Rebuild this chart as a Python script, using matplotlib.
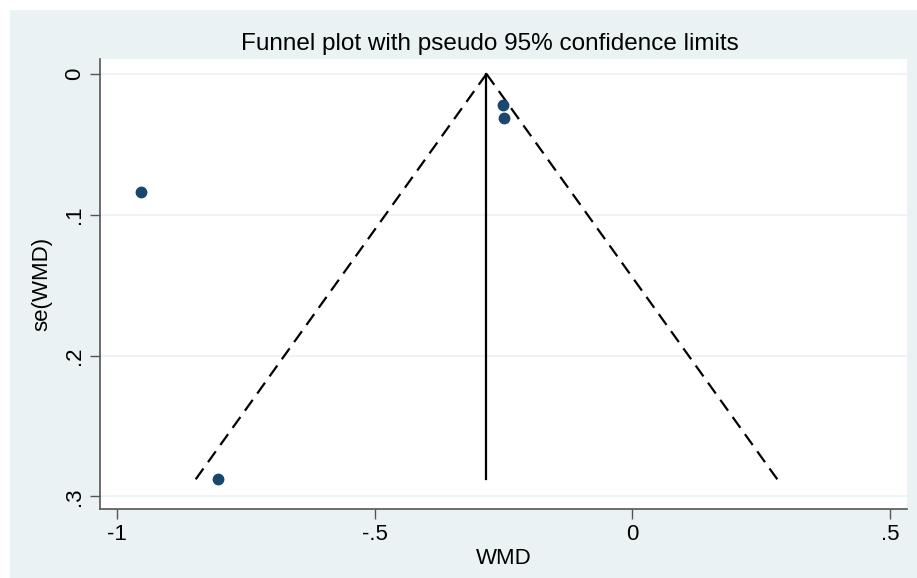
import matplotlib
matplotlib.use("Agg")
import matplotlib.pyplot as plt
from matplotlib.patches import Rectangle
import numpy as np

plt.rcParams['font.family'] = ['Liberation Sans', 'DejaVu Sans']

# Data
wmd = [-0.953, -0.804, -0.250, -0.249]
se_wmd = [0.084, 0.288, 0.022, 0.031]
pooled_wmd = -0.283
max_se = 0.288
z95 = 1.96

xticks = [-1, -0.5, 0, 0.5]
xticklabels = ["-1", "-.5", "0", ".5"]
yticks = [0, 0.1, 0.2, 0.3]
yticklabels = ["0", ".1", ".2", ".3"]

W, H = 917, 578
fig = plt.figure(figsize=(W / 100, H / 100), dpi=100)
fig.patch.set_facecolor("white")
bg = "#eaf2f3"
fig.patches.append(Rectangle((10 / W, 0), 1 - 10 / W, 1 - 10 / H,
                             transform=fig.transFigure, facecolor=bg,
                             edgecolor="none", zorder=-10))

left, right, top, bottom = 100, 907, 59, 509
ax = fig.add_axes([left / W, 1 - bottom / H, (right - left) / W, (bottom - top) / H])
ax.set_facecolor("white")

ax.set_xlim(-1.033, 0.533)
ax.set_ylim(0.309, -0.0106)

for y in yticks:
    ax.axhline(y, color=bg, lw=1.2, zorder=0)

# funnel
se_line = np.array([0, max_se])
ax.plot(pooled_wmd - z95 * se_line, se_line, color="black", ls=(0, (6, 3.5)), lw=1.6)
ax.plot(pooled_wmd + z95 * se_line, se_line, color="black", ls=(0, (6, 3.5)), lw=1.6)
ax.plot([pooled_wmd, pooled_wmd], [0, max_se], color="black", lw=1.6)

ax.plot(wmd, se_wmd, "o", color="#1a476f", ms=7.5, mec="#1a476f", zorder=5)

for s in ["top", "right"]:
    ax.spines[s].set_visible(False)
for s in ["left", "bottom"]:
    ax.spines[s].set_color("#555555")
    ax.spines[s].set_linewidth(1.2)

ax.set_xticks(xticks)
ax.set_xticklabels(xticklabels, fontsize=16)
ax.set_yticks(yticks)
ax.set_yticklabels(yticklabels, fontsize=16, rotation=90, va="center")
ax.tick_params(axis="both", length=7, width=1, color="#555555", pad=4)

ax.set_xlabel("WMD", fontsize=16, labelpad=2)
ax.set_ylabel("se(WMD)", fontsize=16, labelpad=8)

fig.text(490 / W, 1 - 44 / H, "Funnel plot with pseudo 95% confidence limits",
         ha="center", va="center", fontsize=17.5)

fig.savefig("out.png", dpi=100, facecolor=fig.get_facecolor())
